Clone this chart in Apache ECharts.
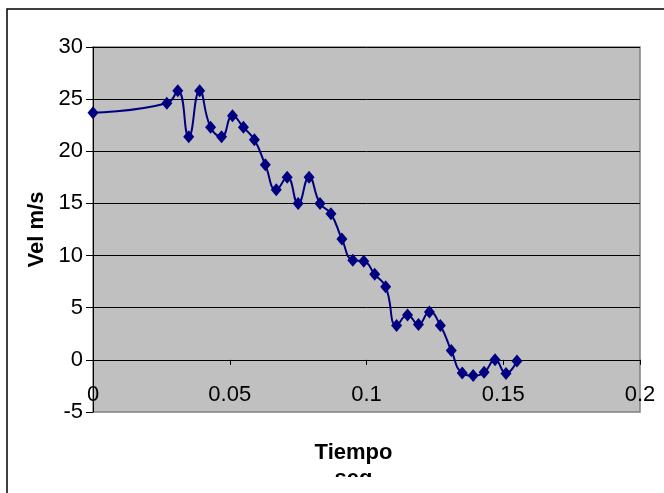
<!DOCTYPE html>
<html>
<head>
<meta charset="utf-8">
<title>Vel m/s vs Tiempo</title>
<script src="https://cdn.jsdelivr.net/npm/echarts@6/dist/echarts.min.js"></script>
<style>
  html, body { margin: 0; padding: 0; background: #fff; }
  #chart { width: 664px; height: 493px; }
</style>
</head>
<body>
<div id="chart"></div>
<script>
// tiempo (seg) y velocidad (m/s)
const tiempo = [
  0, 0.027, 0.031, 0.035, 0.039, 0.043, 0.047, 0.051, 0.055, 0.059,
  0.063, 0.067, 0.071, 0.075, 0.079, 0.083, 0.087, 0.091, 0.095, 0.099,
  0.103, 0.107, 0.111, 0.115, 0.119, 0.123, 0.127, 0.131, 0.135, 0.139,
  0.143, 0.147, 0.151, 0.155
]
const velocidad = [
  23.7, 24.6, 25.8, 21.4, 25.8, 22.3, 21.4, 23.4, 22.3, 21.1,
  18.7, 16.3, 17.5, 15.0, 17.5, 15.0, 14.0, 11.6, 9.55, 9.45,
  8.2, 7.0, 3.3, 4.3, 3.4, 4.6, 3.3, 0.9, -1.26, -1.5,
  -1.2, 0.0, -1.3, -0.1
]
const xTicks = { min: 0, max: 0.2, interval: 0.05 }
const yTicks = { min: -5, max: 30, interval: 5 }

const font = 'Liberation Sans, Arial, sans-serif'
const chart = echarts.init(document.getElementById('chart'))

chart.setOption({
  animation: false,
  backgroundColor: '#fff',
  grid: {
    left: 93,
    top: 47,
    width: 547,
    height: 365,
    outerBoundsMode: 'none',
    containLabel: false,
    show: true,
    backgroundColor: '#C0C0C0',
    borderColor: '#808080',
    borderWidth: 1.5
  },
  xAxis: {
    type: 'value',
    min: xTicks.min,
    max: xTicks.max,
    interval: xTicks.interval,
    name: 'Tiempo\nseg',
    nameLocation: 'middle',
    nameGap: 28,
    nameTextStyle: {
      fontFamily: font,
      fontSize: 22,
      fontWeight: 'bold',
      color: '#000',
      lineHeight: 26,
      padding: [0, 26, 0, 0]
    },
    axisLine: { onZero: true, lineStyle: { color: '#000', width: 1 } },
    axisTick: { show: true, length: 5, lineStyle: { color: '#000' } },
    axisLabel: {
      margin: -28,
      fontFamily: font,
      fontSize: 22,
      color: '#000'
    },
    splitLine: { show: false }
  },
  yAxis: {
    type: 'value',
    min: yTicks.min,
    max: yTicks.max,
    interval: yTicks.interval,
    name: 'Vel m/s',
    nameLocation: 'middle',
    nameRotate: 90,
    nameGap: 44,
    nameTextStyle: {
      fontFamily: font,
      fontSize: 22,
      fontWeight: 'bold',
      color: '#000'
    },
    axisLine: { show: true, onZero: false, lineStyle: { color: '#000', width: 1 } },
    axisTick: { show: true, length: 7, lineStyle: { color: '#000' } },
    axisLabel: {
      margin: 10,
      fontFamily: font,
      fontSize: 22,
      color: '#000'
    },
    splitLine: {
      show: true,
      showMinLine: false,
      lineStyle: { color: '#000', width: 1 }
    }
  },
  series: [{
    type: 'line',
    data: tiempo.map((t, i) => [t, velocidad[i]]),
    smooth: 0.5,
    symbol: 'diamond',
    symbolSize: [11, 13],
    lineStyle: { color: '#000080', width: 2 },
    itemStyle: { color: '#000080' }
  }],
  graphic: [
    {
      // recorte inferior del titulo del eje X, como en el original
      type: 'rect',
      shape: { x: 9, y: 477, width: 660, height: 20 },
      style: { fill: '#fff' },
      z: 100
    },
    {
      // borde exterior del area del grafico
      type: 'rect',
      shape: { x: 7, y: 9, width: 700, height: 600 },
      style: { fill: 'none', stroke: '#000', lineWidth: 1.5 },
      z: 101
    }
  ]
})
</script>
</body>
</html>
